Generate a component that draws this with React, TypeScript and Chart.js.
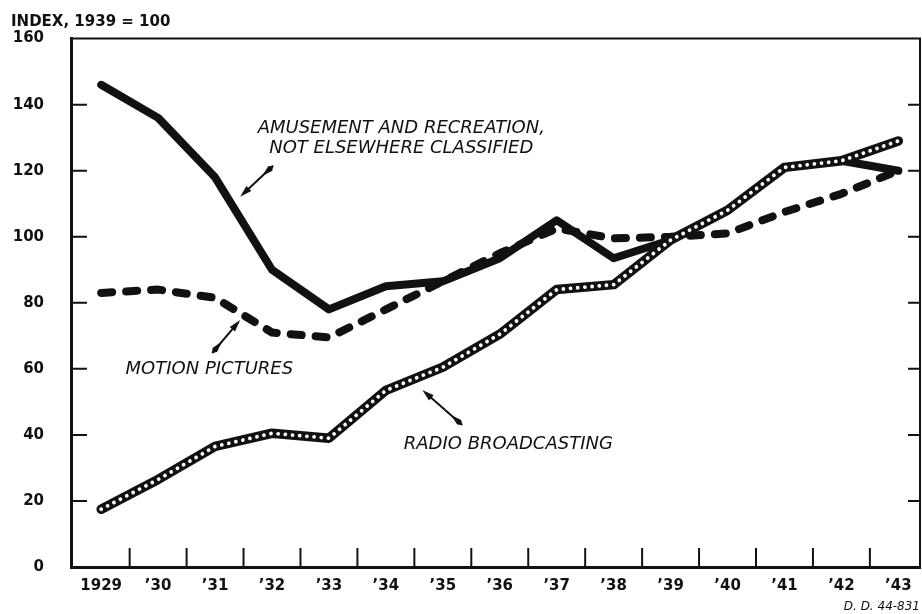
import { useEffect, useRef } from "react";
import { Chart, registerables } from "chart.js";

Chart.register(...registerables);

const categories = ["1929", "’30", "’31", "’32", "’33", "’34", "’35", "’36", "’37", "’38", "’39", "’40", "’41", "’42", "’43"];
const amusement = [146, 136, 118, 90, 78, 85, 86.5, 93.5, 105, 93.5, 99, 108, 121, 123, 120];
const motionPictures = [83, 84, 81.5, 71, 69.5, 78, 86.5, 95, 102.5, 99.5, 100, 101, 107.5, 113, 120];
const radio = [17.5, 26.5, 36.5, 40.5, 39, 53.5, 60.5, 70.5, 84, 85.5, 99, 108, 121, 123, 129];
const yTicks = [0, 20, 40, 60, 80, 100, 120, 140, 160];

const titleText = "INDEX, 1939 = 100";
const sourceText = "D. D. 44-831";

// annotation positions in data coordinates (x = category index, y = index value)
const labelNotes = [
  { text: "AMUSEMENT AND RECREATION,", x: 5.27, y: 132.7 },
  { text: "NOT ELSEWHERE CLASSIFIED", x: 5.27, y: 126.7 },
  { text: "MOTION PICTURES", x: 1.9, y: 59.8 },
  { text: "RADIO BROADCASTING", x: 7.15, y: 37 },
];
const arrowNotes = [
  { from: [3.02, 121.5], to: [2.44, 112.1] },
  { from: [1.95, 64.8], to: [2.44, 74.8] },
  { from: [6.34, 43], to: [5.64, 53.6] },
];

const INK = "#111";

const pts = (arr: number[]) => arr.map((v, i) => ({ x: i, y: v }));

function drawArrow(ctx: CanvasRenderingContext2D, x1: number, y1: number, x2: number, y2: number) {
  const dx = x2 - x1, dy = y2 - y1;
  const len = Math.hypot(dx, dy);
  const ux = dx / len, uy = dy / len;
  const nx = -uy, ny = ux;
  ctx.lineWidth = 2;
  ctx.beginPath();
  ctx.moveTo(x1, y1);
  ctx.lineTo(x2 - ux * 8, y2 - uy * 8);
  ctx.stroke();
  // head
  ctx.beginPath();
  ctx.moveTo(x2, y2);
  ctx.lineTo(x2 - ux * 12 + nx * 3.5, y2 - uy * 12 + ny * 3.5);
  ctx.lineTo(x2 - ux * 12 - nx * 3.5, y2 - uy * 12 - ny * 3.5);
  ctx.closePath();
  ctx.fill();
  // tail wedge
  ctx.beginPath();
  ctx.moveTo(x1, y1);
  ctx.lineTo(x1 + ux * 4 + nx * 3, y1 + uy * 4 + ny * 3);
  ctx.lineTo(x1 + ux * 15, y1 + uy * 15);
  ctx.lineTo(x1 + ux * 4 - nx * 3, y1 + uy * 4 - ny * 3);
  ctx.closePath();
  ctx.fill();
}

const decorPlugin = {
  id: "decor",
  beforeDatasetsDraw(chart: any) {
    const { ctx, chartArea: a, scales } = chart;
    const x = scales.x, y = scales.y;
    ctx.save();
    ctx.strokeStyle = INK;
    ctx.lineCap = "butt";
    // top and right frame
    ctx.lineWidth = 2;
    ctx.beginPath();
    ctx.moveTo(a.left, a.top);
    ctx.lineTo(a.right, a.top);
    ctx.lineTo(a.right, a.bottom);
    ctx.stroke();
    // inner y ticks, left and right
    ctx.lineWidth = 2;
    yTicks.forEach((v) => {
      if (v === yTicks[0] || v === yTicks[yTicks.length - 1]) return;
      const py = y.getPixelForValue(v);
      ctx.beginPath();
      ctx.moveTo(a.left, py);
      ctx.lineTo(a.left + 16, py);
      ctx.moveTo(a.right - 12, py);
      ctx.lineTo(a.right, py);
      ctx.stroke();
    });
    // x ticks between categories
    for (let i = 0; i < categories.length - 1; i++) {
      const px = x.getPixelForValue(i + 0.5);
      ctx.beginPath();
      ctx.moveTo(px, a.bottom);
      ctx.lineTo(px, a.bottom - 19);
      ctx.stroke();
    }
    ctx.restore();
  },
  afterDraw(chart: any) {
    const { ctx, scales } = chart;
    const x = scales.x, y = scales.y;
    ctx.save();
    ctx.fillStyle = INK;
    ctx.strokeStyle = INK;
    // title
    ctx.font = "bold 15px 'DejaVu Sans'";
    ctx.textAlign = "left";
    ctx.textBaseline = "middle";
    ctx.fillText(titleText, 11, 22);
    // source note
    ctx.font = "italic 12px 'DejaVu Sans'";
    ctx.textAlign = "right";
    ctx.fillText(sourceText, 920, 607);
    // labels
    ctx.font = "italic 18px 'DejaVu Sans'";
    ctx.textAlign = "center";
    labelNotes.forEach((n) => {
      ctx.fillText(n.text, x.getPixelForValue(n.x), y.getPixelForValue(n.y));
    });
    arrowNotes.forEach((n) => {
      drawArrow(
        ctx,
        x.getPixelForValue(n.from[0]),
        y.getPixelForValue(n.from[1]),
        x.getPixelForValue(n.to[0]),
        y.getPixelForValue(n.to[1])
      );
    });
    ctx.restore();
  },
};

export default function App() {
  const ref = useRef<HTMLCanvasElement | null>(null);
  useEffect(() => {
    if (!ref.current) return;
    const chart = new Chart(ref.current, {
      type: "line",
      data: {
        datasets: [
          {
            label: "Radio broadcasting (dots)",
            data: pts(radio),
            borderColor: "#ffffff",
            borderWidth: 3.8,
            borderDash: [0.01, 7.2],
            borderCapStyle: "round",
            pointRadius: 0,
            tension: 0,
            order: 0,
          },
          {
            label: "Radio broadcasting",
            data: pts(radio),
            borderColor: INK,
            borderWidth: 9.5,
            borderCapStyle: "round",
            borderJoinStyle: "round",
            pointRadius: 0,
            tension: 0,
            order: 1,
          },
          {
            label: "Amusement and recreation, n.e.c.",
            data: pts(amusement),
            borderColor: INK,
            borderWidth: 8,
            borderCapStyle: "round",
            borderJoinStyle: "round",
            pointRadius: 0,
            tension: 0,
            order: 2,
          },
          {
            label: "Motion pictures",
            data: pts(motionPictures),
            borderColor: INK,
            borderWidth: 8,
            borderDash: [11, 14],
            borderCapStyle: "round",
            borderJoinStyle: "round",
            pointRadius: 0,
            tension: 0,
            order: 3,
          },
        ],
      },
      options: {
        animation: false,
        responsive: false,
        devicePixelRatio: 1,
        layout: { padding: { top: 38.6, right: 2, left: 0, bottom: 0 } },
        plugins: { legend: { display: false }, tooltip: { enabled: false }, title: { display: false } },
        scales: {
          x: {
            type: "linear",
            min: -0.53,
            max: 14.38,
            afterFit: (s: any) => {
              s.height = 47;
            },
            afterBuildTicks: (s: any) => {
              s.ticks = categories.map((_, i) => ({ value: i }));
            },
            grid: { display: false },
            border: { display: true, width: 3, color: INK },
            ticks: {
              autoSkip: false,
              maxRotation: 0,
              padding: 2,
              color: INK,
              font: { family: "'DejaVu Sans'", size: 15, weight: "bold" },
              callback: (v: any) => categories[v] ?? "",
            },
          },
          y: {
            min: 0,
            max: 160,
            afterFit: (s: any) => {
              s.width = 71;
            },
            afterBuildTicks: (s: any) => {
              s.ticks = yTicks.map((v) => ({ value: v }));
            },
            grid: { display: false },
            border: { display: true, width: 3, color: INK },
            ticks: {
              padding: 19,
              color: INK,
              font: { family: "'DejaVu Sans'", size: 15, weight: "bold" },
            },
          },
        },
      },
      plugins: [decorPlugin],
    });
    return () => chart.destroy();
  }, []);
  return (
    <div style={{ position: "absolute", left: 0, top: 0, width: 922, height: 614, background: "#fff" }}>
      <canvas ref={ref} width={922} height={614} />
    </div>
  );
}
